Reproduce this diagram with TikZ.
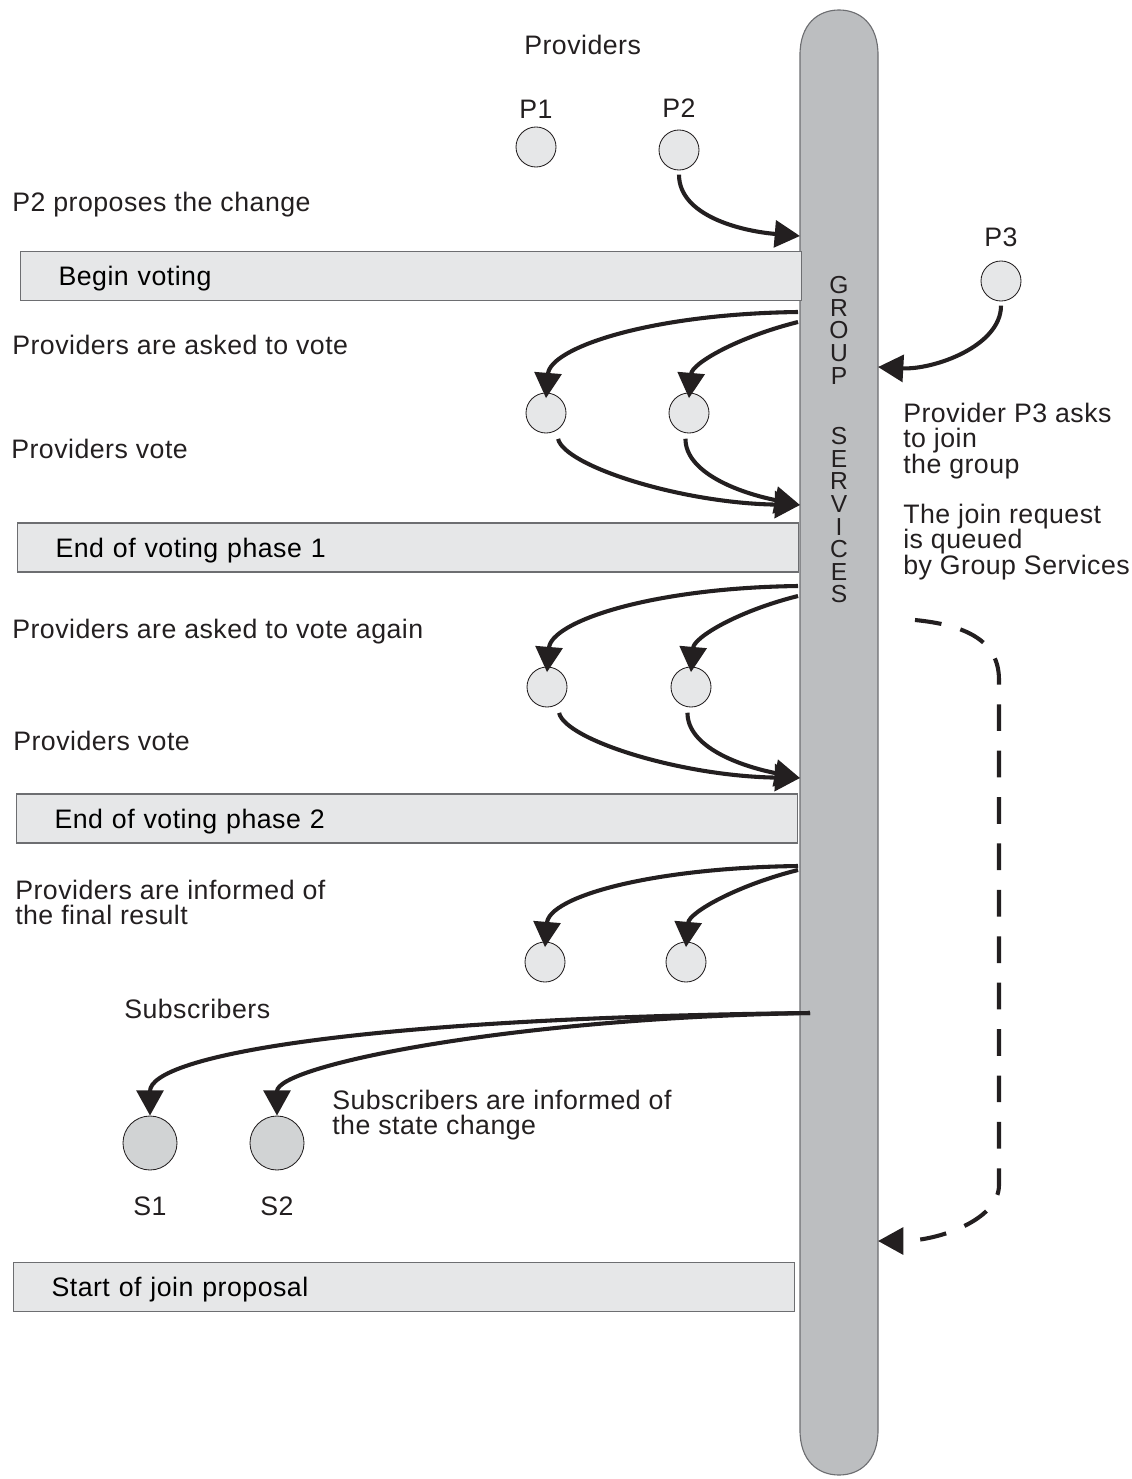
\documentclass[tikz,border=0pt]{standalone}
\usepackage{fontspec}
\setmainfont{Liberation Sans}[LetterSpace=1.8]
\usetikzlibrary{positioning, arrows.meta, calc}
\definecolor{panel}{HTML}{E6E7E8}
\definecolor{subgray}{HTML}{D1D3D4}
\definecolor{gsgray}{HTML}{BCBEC0}
\definecolor{edgegray}{HTML}{6D6E71}
\definecolor{ink}{HTML}{231F20}
\tikzset{prov node/.style={circle, draw=ink, line width=0.6pt, fill=panel, minimum size=1cm, inner sep=0pt},
	sub node/.style={prov node, fill=subgray, minimum size=1.35cm},
	phase bar/.style={rectangle, draw=edgegray, line width=0.8pt, fill=panel, minimum width=19.525cm, minimum height=1.225cm, text width=17.625cm, inner xsep=0.95cm, inner ysep=0pt, align=left, text height=13.7pt, text depth=0pt, anchor=west},
	note/.style={inner sep=0pt, anchor=base west, text=ink},
	gs bar/.style={draw=edgegray, line width=0.8pt, fill=gsgray},}

\begin{document}
\begin{tikzpicture}[x=0.025cm, y=0.025cm, font=\fontsize{19pt}{18pt}\selectfont,
		msg/.style={-{Triangle[length=18pt,width=19pt]}, line width=2.9pt, draw=ink},
		queued/.style={msg, dash pattern=on 19pt off 14pt}]
				\path[use as bounding box] (0,0) rectangle (1131,-1479);
				% Group Services
				\draw[gs bar] (800,-55) .. controls (800,-24) and (818,-10) .. (839,-10) .. controls (860,-10) and (878,-24) .. (878,-55) -- (878,-1430) .. controls (878,-1461) and (860,-1475) .. (839,-1475) .. controls (818,-1475) and (800,-1461) .. (800,-1430) -- cycle;
				\node[text=ink, inner sep=0pt, anchor=north, align=center, font=\fontsize{17.5pt}{16.1pt}\selectfont] (gtxt) at (839,-276) {G\\R\\O\\U\\P};
				\node[text=ink, inner sep=0pt, anchor=north, align=center, font=\fontsize{17.5pt}{16.1pt}\selectfont] (stxt) at (839,-427) {S\\E\\R\\V\\I\\C\\E\\S};
				% Phases
				\node[phase bar] (begin) at (20,-276) {Begin voting};
				\node[phase bar] (end1) at (17,-547.5) {End of voting phase 1};
				\node[phase bar] (end2) at (16,-818.5) {End of voting phase 2};
				\node[phase bar] (join) at (13,-1287) {Start of join proposal};
				% Providers
				\node[note] (prov) at (524,-55) {Providers};
				\node[prov node] (p1) at (536,-147) {};
				\node[prov node] (p2) at (679,-150) {};
				\node[prov node] (p3) at (1001,-281) {};
				\node[inner sep=0pt, text=ink, above=0.2cm of p1] (p1l) {P1};
				\node[inner sep=0pt, text=ink, above=0.3cm of p2] (p2l) {P2};
				\node[inner sep=0pt, text=ink, above=0.35cm of p3] (p3l) {P3};
				\node[prov node] (q1) at (546,-413) {};
				\node[prov node] (q2) at (689,-413) {};
				\node[prov node] (w1) at (547,-687) {};
				\node[prov node] (w2) at (691,-687) {};
				\node[prov node] (f1) at (545,-962) {};
				\node[prov node] (f2) at (686,-962) {};
				% Subscribers
				\node[note] (subs) at (124,-1018) {Subscribers};
				\node[sub node] (s1) at (150,-1143) {};
				\node[sub node] (s2) at (277,-1143) {};
				\node[inner sep=0pt, text=ink, below=0.65cm of s1] (s1l) {S1};
				\node[inner sep=0pt, text=ink, below=0.65cm of s2] (s2l) {S2};
				% Texts
				\node[note] (t1) at (12,-211) {P2 proposes the change};
				\node[note] (t2) at (12,-354) {Providers are asked to vote};
				\node[note] (t3) at (11,-458) {Providers vote};
				\node[note] (t4) at (12,-638) {Providers are asked to vote again};
				\node[note] (t5) at (13,-750) {Providers vote};
				\node[note, anchor=north west, align=left] (t6) at (15,-880) {Providers are informed of\\the final result};
				\node[note, anchor=north west, align=left] (t7) at (332,-1090) {Subscribers are informed of\\the state change};
				\node[note, anchor=north west, align=left] (t8) at (903,-403) {Provider P3 asks\\to join\\the group};
				\node[note, anchor=north west, align=left] (t9) at (903,-504) {The join request\\is queued\\by Group Services};
				% Ends on the bar
				\coordinate (in1) at (800,-236);
				\coordinate (in2) at (800,-505);
				\coordinate (in3) at (800,-778);
				\coordinate (j3) at (878,-367);
				\coordinate (o1a) at (798,-312);
				\coordinate (o1b) at (798,-322);
				\coordinate (o2a) at (798,-586);
				\coordinate (o2b) at (798,-596);
				\coordinate (o3a) at (798,-866);
				\coordinate (o3b) at (798,-870);
				\coordinate (so) at (810,-1013);
				\coordinate (qa) at (915,-620);
				\coordinate (qb) at (999,-680);
				\coordinate (qc) at (999,-1185);
				\coordinate (qd) at (878,-1241);
				% Paths
				\draw[msg, shorten <=3pt] (p2.south) .. controls +(0,-45) and +(-60,5) .. (in1);
				\draw[msg, shorten <=3pt] (p3.south) .. controls +(0,-45) and +(55,-3) .. (j3);
				\draw[msg] (o1a) .. controls +(-150,-2) and +(4,50) .. ([yshift=-4pt]q1.north);
				\draw[msg] (o1b) .. controls +(-60,-15) and +(3,35) .. ([yshift=-4pt]q2.north);
				\draw[msg, shorten <=6pt] (q1.-60) .. controls +(8,-35) and +(-120,2) .. (in2);
				\draw[msg, shorten <=4pt] (q2.-100) .. controls +(0,-40) and +(-60,12) .. (in2);
				\draw[msg] (o2a) .. controls +(-150,-2) and +(4,50) .. ([yshift=-4pt]w1.north);
				\draw[msg] (o2b) .. controls +(-60,-15) and +(3,35) .. ([yshift=-4pt]w2.north);
				\draw[msg, shorten <=6pt] (w1.-60) .. controls +(8,-35) and +(-120,2) .. (in3);
				\draw[msg, shorten <=4pt] (w2.-100) .. controls +(0,-40) and +(-60,12) .. (in3);
				\draw[msg] (o3a) .. controls +(-150,-2) and +(4,50) .. ([yshift=-4pt]f1.north);
				\draw[msg] (o3b) .. controls +(-60,-15) and +(3,35) .. ([yshift=-4pt]f2.north);
				\draw[msg] (so) .. controls +(-450,-5) and +(0,60) .. (s1.north);
				\draw[msg] (so) .. controls +(-300,-5) and +(0,50) .. (s2.north);
				\draw[queued] (qa) .. controls +(50,-5) and +(0,40) .. (qb) -- (qc) .. controls +(0,-35) and +(60,0) .. (qd);
			\end{tikzpicture}
\end{document}
